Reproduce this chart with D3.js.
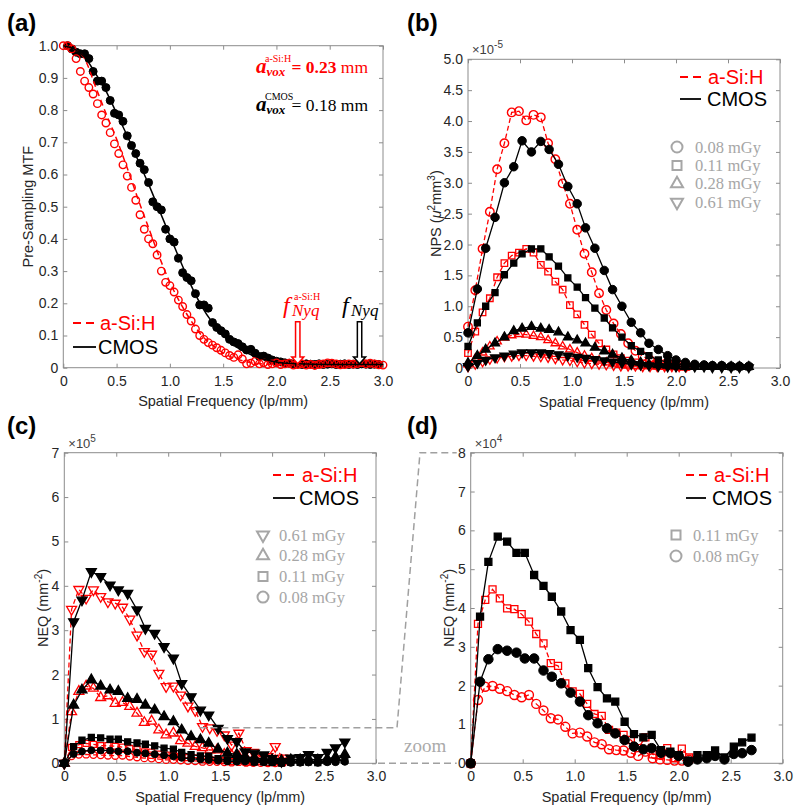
<!DOCTYPE html>
<html><head><meta charset="utf-8">
<script src="https://cdn.jsdelivr.net/npm/d3@7"></script>
<style>body{margin:0;background:#fff}svg{display:block}</style>
</head><body><svg id="c" width="800" height="809"></svg>
<script>
// ---------------- DATA ----------------
const xTickVals = [0,0.5,1,1.5,2,2.5,3];
const xTickLabels = ["0","0.5","1.0","1.5","2.0","2.5","3.0"];
const yTicksA = [0,0.1,0.2,0.3,0.4,0.5,0.6,0.7,0.8,0.9,1.0];
const yLabelsA = ["0","0.1","0.2","0.3","0.4","0.5","0.6","0.7","0.8","0.9","1.0"];
const yTicksB = [0,0.5,1,1.5,2,2.5,3,3.5,4,4.5,5];
const yLabelsB = ["0","0.5","1.0","1.5","2.0","2.5","3.0","3.5","4.0","4.5","5.0"];
const yTicksC = [0,1,2,3,4,5,6,7];
const yTicksD = [0,1,2,3,4,5,6,7,8];
const detectors = ["a-Si:H","CMOS"];
const doseLabels = {d008:"0.08 mGy", d011:"0.11 mGy", d028:"0.28 mGy", d061:"0.61 mGy"};
const nyqFreq = [2.2, 2.78]; // a-Si:H, CMOS

// (a) MTF
const fMtfA = [0,0.04,0.08,0.12,0.16,0.20,0.24,0.28,0.32,0.36,0.40,0.44,0.48,0.52,0.56,0.60,0.64,0.68,0.72,0.76,
 0.80,0.84,0.88,0.92,0.96,1.00,1.04,1.08,1.12,1.16,1.20,1.24,1.28,1.32,1.36,1.40,1.44,1.48,1.52,1.56,
 1.60,1.64,1.68,1.72,1.76,1.80,1.84,1.88,1.92,1.96,2.00,2.04,2.08,2.12,2.16,2.20,2.24,2.28,2.32,2.36,
 2.40,2.44,2.48,2.52,2.56,2.60,2.64,2.68,2.72,2.76,2.80,2.84,2.88,2.92,2.96,3.00];
const mtfASi = [1.0,1.0,0.99,0.96,0.92,0.89,0.87,0.85,0.82,0.785,
 0.76,0.73,0.695,0.665,0.63,0.595,0.56,0.52,0.475,0.43,
 0.40,0.385,0.35,0.30,0.265,0.255,0.235,0.21,0.19,0.165,
 0.145,0.12,0.10,0.088,0.078,0.07,0.062,0.054,0.046,0.038,
 0.032,0.04,0.027,0.012,0.014,0.02,0.012,0.015,0.01,0.012,
 0.015,0.01,0.012,0.014,0.008,0.01,0.012,0.008,0.01,0.007,
 0.01,0.012,0.015,0.014,0.012,0.009,0.01,0.012,0.011,0.013,
 0.016,0.012,0.014,0.012,0.009,0.008];
const fMtfC = [0.04,0.08,0.12,0.16,0.20,0.24,0.28,0.32,0.36,0.40,0.44,0.48,0.52,0.56,0.60,0.64,0.68,0.72,0.76,0.80,
 0.84,0.88,0.92,0.96,1.00,1.04,1.08,1.12,1.16,1.20,1.24,1.28,1.32,1.36,1.40,1.44,1.48,1.52,1.56,1.60,
 1.64,1.68,1.72,1.76,1.80,1.84,1.88,1.92,1.96,2.00,2.04,2.08,2.12,2.16,2.20,2.24,2.28,2.32,2.36,2.40,
 2.44,2.48,2.52,2.56,2.60,2.64,2.68,2.72,2.76,2.80,2.84,2.88,2.92,2.96];
const mtfCmos = [1.0,0.99,0.98,0.975,0.975,0.96,0.92,0.89,0.89,0.87,
 0.83,0.79,0.785,0.765,0.72,0.69,0.665,0.635,0.615,0.575,
 0.515,0.50,0.49,0.43,0.40,0.39,0.34,0.295,0.28,0.27,
 0.23,0.195,0.195,0.185,0.14,0.125,0.115,0.105,0.088,0.08,
 0.075,0.065,0.055,0.057,0.045,0.035,0.036,0.03,0.024,0.02,
 0.018,0.015,0.014,0.012,0.013,0.01,0.012,0.011,0.01,0.012,
 0.01,0.011,0.012,0.01,0.011,0.012,0.01,0.011,0.01,0.012,
 0.011,0.01,0.011,0.01];
const fFit = [0,0.1,0.2,0.3,0.4,0.5,0.6,0.7,0.8,0.9,1.0,1.1,1.2,1.3,1.4,1.5,1.6,1.7,1.8,1.9,2.0,2.2,2.5,3.0];
const fitASi = [1.0,0.99,0.96,0.875,0.79,0.71,0.62,0.525,0.435,0.345,0.265,0.2,0.145,0.1,0.07,0.046,0.03,0.02,0.014,0.011,0.01,0.01,0.01,0.01];
const fitCmos = [1.0,0.99,0.965,0.915,0.86,0.79,0.72,0.645,0.57,0.49,0.41,0.33,0.255,0.19,0.14,0.10,0.07,0.05,0.035,0.025,0.018,0.012,0.01,0.01];

// frequency grids for NPS / NEQ
const fCmos = [0,0.09,0.17,0.26,0.35,0.44,0.52,0.61,0.70,0.78,0.87,0.96,1.05,1.13,1.22,1.31,1.39,1.48,1.57,1.66,1.74,1.83,1.92,2.00,2.09,2.18,2.27,2.35,2.44,2.53,2.61,2.70];
const fASi = [0,0.07,0.14,0.21,0.28,0.35,0.42,0.49,0.56,0.63,0.70,0.77,0.84,0.91,0.98,1.05,1.12,1.19,1.26,1.33,1.40,1.47,1.54,1.61,1.68,1.75,1.82,1.89,1.96,2.03,2.10];

// (b) NPS (x1e-5)
const npsCmos008 = [0.57,1.28,1.94,2.44,3.0,3.26,3.68,3.5,3.67,3.54,3.30,2.94,2.66,2.27,1.94,1.58,1.27,1.0,0.74,0.57,0.40,0.30,0.20,0.13,0.09,0.06,0.05,0.04,0.04,0.03,0.03,0.03];
const npsCmos011 = [0.35,0.73,1.0,1.22,1.51,1.70,1.85,1.93,1.93,1.80,1.65,1.46,1.31,1.14,0.97,0.81,0.65,0.50,0.36,0.27,0.20,0.13,0.09,0.06,0.05,0.04,0.03,0.03,0.03,0.02,0.02,0.02];
const npsCmos028 = [0.08,0.2,0.3,0.4,0.5,0.6,0.64,0.67,0.64,0.62,0.58,0.50,0.45,0.40,0.33,0.27,0.22,0.16,0.12,0.09,0.06,0.05,0.04,0.03,0.02,0.02,0.02,0.02,0.02,0.02,0.02,0.02];
const npsCmos061 = [0.03,0.08,0.13,0.17,0.2,0.23,0.25,0.25,0.25,0.24,0.22,0.2,0.18,0.16,0.14,0.12,0.1,0.08,0.06,0.05,0.04,0.03,0.02,0.02,0.02,0.02,0.02,0.01,0.01,0.01,0.01,0.01];
const npsASi008 = [0.67,1.26,1.93,2.53,3.22,3.64,4.14,4.16,4.01,4.10,4.06,3.64,3.38,2.99,2.66,2.24,1.85,1.55,1.21,0.94,0.72,0.55,0.40,0.28,0.19,0.13,0.09,0.06,0.05,0.04,0.03];
const npsASi011 = [0.24,0.59,0.90,1.13,1.47,1.70,1.82,1.87,1.93,1.87,1.67,1.56,1.40,1.27,1.02,0.87,0.70,0.54,0.40,0.30,0.22,0.16,0.12,0.09,0.07,0.05,0.04,0.03,0.03,0.02,0.02];
const npsASi028 = [0.06,0.15,0.25,0.35,0.43,0.49,0.53,0.55,0.54,0.52,0.50,0.45,0.40,0.35,0.30,0.25,0.20,0.16,0.12,0.09,0.07,0.05,0.04,0.03,0.03,0.03,0.02,0.02,0.02,0.02,0.02];
const npsASi061 = [0.02,0.06,0.10,0.14,0.16,0.18,0.19,0.20,0.20,0.19,0.18,0.17,0.15,0.13,0.12,0.10,0.08,0.07,0.06,0.05,0.04,0.03,0.03,0.03,0.02,0.02,0.02,0.02,0.02,0.02,0.02];

// (c) NEQ high dose (x1e5)
const neqCmos061 = [0,3.19,3.68,4.32,4.21,4.02,3.91,3.83,3.46,3.04,2.93,2.63,2.37,1.80,1.50,1.20,1.09,0.79,0.56,0.49,0.26,0.23,0.19,0.11,0.04,0.12,0.13,0.20,0.13,0.25,0.35,0.48];
const neqCmos028 = [0,1.31,1.65,1.88,1.74,1.65,1.62,1.46,1.44,1.31,1.20,1.05,0.94,0.75,0.60,0.53,0.45,0.32,0.23,0.20,0.15,0.12,0.10,0.08,0.06,0.08,0.08,0.10,0.07,0.10,0.14,0.20];
const neqASi061 = [0,3.47,3.92,3.72,3.91,3.76,3.64,3.61,3.52,3.25,2.89,2.52,2.46,2.03,1.73,1.74,1.54,1.29,1.19,0.83,0.80,0.74,0.64,0.41,0.68,0.29,0.25,0.15,0.15,0.38,0.12];
const neqASi028 = [0,1.16,1.62,1.74,1.69,1.48,1.52,1.35,1.37,1.28,1.13,0.92,0.95,0.75,0.64,0.68,0.51,0.45,0.38,0.35,0.30,0.30,0.20,0.18,0.15,0.12,0.10,0.08,0.07,0.06,0.05];

// (d) NEQ low dose (x1e4)
const neqCmos011 = [0,3.78,5.19,5.84,5.71,5.42,5.42,4.85,4.57,4.29,3.91,3.43,3.18,2.45,1.96,1.67,1.59,1.07,0.75,0.67,0.73,0.34,0.30,0.21,0.07,0.21,0.21,0.33,0.15,0.43,0.54,0.66];
const neqCmos008 = [0,2.10,2.68,2.94,2.90,2.85,2.70,2.70,2.39,2.23,2.06,1.82,1.59,1.24,1.03,0.90,0.77,0.60,0.43,0.36,0.39,0.27,0.26,0.19,0.04,0.10,0.13,0.19,0.10,0.24,0.26,0.34];
const neqASi011 = [0,3.59,4.21,4.48,4.25,3.99,3.97,3.84,3.65,3.33,3.09,2.58,2.51,2.06,1.85,1.79,1.53,1.27,1.22,0.86,0.79,0.73,0.60,0.39,0.67,0.23,0.21,0.39,0.13,0.38,0.15];
const neqASi008 = [0,1.63,1.97,1.99,1.92,1.86,1.76,1.70,1.76,1.53,1.36,1.16,1.13,0.94,0.77,0.79,0.69,0.54,0.49,0.36,0.34,0.33,0.27,0.19,0.30,0.13,0.10,0.09,0.07,0.07,0.09];

// ---------------- DRAWING ----------------
const svg = d3.select("#c");
const RED = "#ff0000", BLK = "#000000", AX = "#262626", BOX = "#8c8c8c", GRAY = "#a6a6a6";
const SANS = "'Liberation Sans', Arial, sans-serif";
const SERIF = "'Liberation Serif', 'Times New Roman', serif";

function sym(shape, w){
  if (shape === "o") return d3.symbol(d3.symbolCircle, Math.PI * (w/2) * (w/2))();
  if (shape === "s") return d3.symbol(d3.symbolSquare, w*w)();
  return d3.symbol(d3.symbolTriangle, w*w*Math.sqrt(3)/4)();
}

function panel(p){
  const x = d3.scaleLinear().domain([0,3]).range([p.x0, p.x1]);
  const y = d3.scaleLinear().domain([0, p.ymax]).range([p.y0, p.y1]);
  const g = svg.append("g");
  const style = a => { a.attr("font-size",14).attr("font-family",SANS);
    a.select(".domain").remove(); a.selectAll("line").attr("stroke",BOX); a.selectAll("text").attr("fill",AX); };
  g.append("g").attr("transform",`translate(0,${p.y0})`)
    .call(d3.axisBottom(x).tickValues(xTickVals).tickFormat((d,i)=>xTickLabels[i]).tickSizeInner(-4).tickSizeOuter(0).tickPadding(8)).call(style);
  g.append("g").attr("transform",`translate(0,${p.y1})`)
    .call(d3.axisTop(x).tickValues(xTickVals).tickFormat("").tickSizeInner(-4).tickSizeOuter(0)).call(style);
  g.append("g").attr("transform",`translate(${p.x0},0)`)
    .call(d3.axisLeft(y).tickValues(p.yTicks).tickFormat((d,i)=>p.yLabels[i]).tickSizeInner(-4).tickSizeOuter(0).tickPadding(5)).call(style);
  g.append("g").attr("transform",`translate(${p.x1},0)`)
    .call(d3.axisRight(y).tickValues(p.yTicks).tickFormat("").tickSizeInner(-4).tickSizeOuter(0)).call(style);
  g.append("rect").attr("x",p.x0).attr("y",p.y1).attr("width",p.x1-p.x0).attr("height",p.y0-p.y1)
    .attr("fill","none").attr("stroke",BOX).attr("stroke-width",1);
  // panel label
  svg.append("text").attr("x",p.lx).attr("y",p.ly).text(p.label)
    .attr("font-family",SANS).attr("font-weight","bold").attr("font-size",24).attr("fill","#000");
  // x label
  g.append("text").attr("x",(p.x0+p.x1)/2).attr("y",p.y0+38.5).attr("text-anchor","middle")
    .attr("font-family",SANS).attr("font-size",14.5).attr("fill",AX).text("Spatial Frequency (lp/mm)");
  // y label
  const yl = g.append("text").attr("transform",`translate(${p.ylx},${(p.y0+p.y1)/2}) rotate(-90)`)
    .attr("text-anchor","middle").attr("font-family",SANS).attr("font-size",14.5).attr("fill",AX);
  p.ylabel.forEach(s => { const t = yl.append("tspan").text(s.t); if (s.dy) t.attr("dy",s.dy); if (s.fs) t.attr("font-size",s.fs); if (s.it) t.attr("font-style","italic"); });
  if (p.mult){
    const m = g.append("text").attr("x",p.x0+4).attr("y",p.y1-5).attr("font-family",SANS).attr("font-size",13).attr("fill","#404040");
    m.append("tspan").text("\u00d710");
    m.append("tspan").text(p.mult).attr("dy",-6).attr("font-size",10);
  }
  return {g,x,y};
}

function series(P, xs, ys, o){
  const pts = xs.map((d,i)=>[d, ys[i]]);
  if (o.line !== false){
    P.g.append("path").attr("d", d3.line().x(d=>P.x(d[0])).y(d=>P.y(d[1]))(pts))
      .attr("fill","none").attr("stroke",o.color).attr("stroke-width",o.lw||1.3)
      .attr("stroke-dasharray", o.dash ? "5,3" : null);
  }
  P.g.append("g").selectAll("path").data(pts).join("path")
    .attr("transform", d=>`translate(${P.x(d[0])},${P.y(d[1])})${o.shape==="v"?" rotate(180)":""}`)
    .attr("d", sym(o.shape, o.size))
    .attr("fill", o.filled ? o.color : "none")
    .attr("stroke", o.color).attr("stroke-width", o.sw || 1.3);
}

function fitLine(P, xs, ys, color, dash){
  P.g.append("path").attr("d", d3.line().curve(d3.curveMonotoneX).x((d,i)=>P.x(d)).y((d,i)=>P.y(ys[i]))(xs))
    .attr("fill","none").attr("stroke",color).attr("stroke-width",1.5).attr("stroke-dasharray",dash?"6,4":null);
}

function detLegend(g, lx0, lx1, tx1, tx2, yA, yB){
  g.append("line").attr("x1",lx0).attr("x2",lx1).attr("y1",yA).attr("y2",yA).attr("stroke",RED).attr("stroke-width",1.8).attr("stroke-dasharray","8,5");
  g.append("text").attr("x",tx1).attr("y",yA+6.5).text(detectors[0]).attr("font-family",SANS).attr("font-size",20).attr("fill",RED);
  g.append("line").attr("x1",lx0).attr("x2",lx1-2).attr("y1",yB).attr("y2",yB).attr("stroke",BLK).attr("stroke-width",1.8);
  g.append("text").attr("x",tx2).attr("y",yB+6.5).text(detectors[1]).attr("font-family",SANS).attr("font-size",20).attr("fill",BLK);
}

function doseLegend(g, items, sx, tx, y0, dy){
  items.forEach((it,i)=>{
    const yy = y0 + i*dy;
    g.append("path").attr("transform",`translate(${sx},${yy})${it[0]==="v"?" rotate(180)":""}`)
      .attr("d", sym(it[0], it[0]==="o"?11:(it[0]==="s"?9:12))).attr("fill","none").attr("stroke",GRAY).attr("stroke-width",2);
    g.append("text").attr("x",tx).attr("y",yy+5.5).text(it[1]).attr("font-family",SERIF).attr("font-size",16.5).attr("fill",GRAY);
  });
}

// ----- (a) -----
const A = panel({x0:63.3,x1:383,y0:367.7,y1:45.7,ymax:1,yTicks:yTicksA,yLabels:yLabelsA,label:"(a)",lx:7,ly:31,
  ylx:33, ylabel:[{t:"Pre-Sampling MTF"}]});
series(A, fMtfC, mtfCmos, {color:BLK, shape:"o", size:8, filled:true, line:false, sw:1});
series(A, fMtfA, mtfASi, {color:RED, shape:"o", size:7.5, filled:false, line:false, sw:1.4});
fitLine(A, fFit, fitASi, RED, true);
fitLine(A, fFit, fitCmos, BLK, false);
detLegend(A.g, 73, 98, 100, 98, 323, 347);
// Nyquist arrows
[[nyqFreq[0],RED],[nyqFreq[1],BLK]].forEach(([f,c])=>{
  const xp = A.x(f), top = A.y(0.143), hb = A.y(0.033), tip = A.y(0.012);
  A.g.append("path").attr("d",`M${xp-2.2},${top}L${xp+2.2},${top}L${xp+2.2},${hb}L${xp+6},${hb}L${xp},${tip}L${xp-6},${hb}L${xp-2.2},${hb}Z`)
    .attr("fill","#fff").attr("stroke",c).attr("stroke-width",1.5);
});
function nyqLabel(xf, col, sup){
  const g = A.g;
  g.append("text").attr("x",xf).attr("y",313).text("f").attr("font-family",SERIF).attr("font-style","italic").attr("font-size",24).attr("fill",col);
  g.append("text").attr("x",xf+9).attr("y",316).text("Nyq").attr("font-family",SERIF).attr("font-style","italic").attr("font-size",17).attr("fill",col);
  if (sup) g.append("text").attr("x",xf+11).attr("y",300).text(sup).attr("font-family",SERIF).attr("font-size",10).attr("fill",col);
}
nyqLabel(283, RED, "a-Si:H");
nyqLabel(342, BLK, null);
// a_vox annotations
function avox(yb, col, sup, val, bold){
  const g = A.g;
  g.append("text").attr("x",256).attr("y",yb).text("a").attr("font-family",SERIF).attr("font-style","italic").attr("font-weight","bold").attr("font-size",21).attr("fill",col);
  g.append("text").attr("x",266.5).attr("y",yb+3).text("vox").attr("font-family",SERIF).attr("font-style","italic").attr("font-weight","bold").attr("font-size",13).attr("fill",col);
  g.append("text").attr("x",265).attr("y",yb-11).text(sup).attr("font-family",SERIF).attr("font-size",10).attr("fill",col);
  const t = g.append("text").attr("x",368).attr("y",yb).attr("text-anchor","end").attr("font-family",SERIF).attr("font-size",17.5).attr("fill",col);
  t.append("tspan").text("= " + val + " ").attr("font-weight", bold ? "bold" : "normal");
  t.append("tspan").text("mm");
}
avox(73, RED, "a-Si:H", "0.23", true);
avox(111, BLK, "CMOS", "0.18", false);

// ----- (b) -----
const B = panel({x0:468,x1:780,y0:368,y1:59.3,ymax:5,yTicks:yTicksB,yLabels:yLabelsB,label:"(b)",lx:407,ly:31,
  ylx:441, mult:"-5",
  ylabel:[{t:"NPS ("},{t:"\u03bc",it:true},{t:"2",dy:-6,fs:10},{t:"mm",dy:6},{t:"3",dy:-6,fs:10},{t:")",dy:6}]});
series(B, fASi, npsASi061, {color:RED, shape:"v", size:8.5, dash:true});
series(B, fASi, npsASi028, {color:RED, shape:"^", size:8.5, dash:true});
series(B, fASi, npsASi011, {color:RED, shape:"s", size:6.5, dash:true});
series(B, fASi, npsASi008, {color:RED, shape:"o", size:8.5, dash:true, sw:1.4});
series(B, fCmos, npsCmos061, {color:BLK, shape:"v", size:9, filled:true});
series(B, fCmos, npsCmos028, {color:BLK, shape:"^", size:9, filled:true});
series(B, fCmos, npsCmos011, {color:BLK, shape:"s", size:6, filled:true});
series(B, fCmos, npsCmos008, {color:BLK, shape:"o", size:8.5, filled:true, sw:1});
detLegend(B.g, 680, 703, 708, 707, 77, 99);
doseLegend(B.g, [["o",doseLabels.d008],["s",doseLabels.d011],["^",doseLabels.d028],["v",doseLabels.d061]], 677, 695, 147, 18.4);

// ----- (c) -----
const C = panel({x0:64.3,x1:376,y0:763.3,y1:452.7,ymax:7,yTicks:yTicksC,yLabels:yTicksC.map(String),label:"(c)",lx:7,ly:434,
  ylx:48, mult:"5",
  ylabel:[{t:"NEQ (mm"},{t:"-2",dy:-6,fs:10},{t:")",dy:6}]});
series(C, fASi, neqASi008.map(v=>v/10), {color:RED, shape:"o", size:7, dash:true, sw:1.3});
series(C, fASi, neqASi011.map(v=>v/10), {color:RED, shape:"s", size:6, dash:true});
series(C, fASi, neqASi028, {color:RED, shape:"^", size:10, dash:true});
series(C, fASi, neqASi061, {color:RED, shape:"v", size:10, dash:true});
series(C, fCmos, neqCmos008.map(v=>v/10), {color:BLK, shape:"o", size:7, filled:true, sw:1});
series(C, fCmos, neqCmos011.map(v=>v/10), {color:BLK, shape:"s", size:6, filled:true});
series(C, fCmos, neqCmos028, {color:BLK, shape:"^", size:10, filled:true});
series(C, fCmos, neqCmos061, {color:BLK, shape:"v", size:10, filled:true});
detLegend(C.g, 273, 297, 302, 299, 475, 498);
doseLegend(C.g, [["v",doseLabels.d061],["^",doseLabels.d028],["s",doseLabels.d011],["o",doseLabels.d008]], 263, 279, 535, 20.7);

// ----- (d) -----
const D = panel({x0:470.7,x1:782.7,y0:763.3,y1:452.7,ymax:8,yTicks:yTicksD,yLabels:yTicksD.map(String),label:"(d)",lx:407,ly:434,
  ylx:454, mult:"4",
  ylabel:[{t:"NEQ (mm"},{t:"-2",dy:-6,fs:10},{t:")",dy:6}]});
series(D, fASi, neqASi008, {color:RED, shape:"o", size:9, dash:true, sw:1.4});
series(D, fASi, neqASi011, {color:RED, shape:"s", size:7, dash:true, sw:1.3});
series(D, fCmos, neqCmos008, {color:BLK, shape:"o", size:9.5, filled:true, sw:1});
series(D, fCmos, neqCmos011, {color:BLK, shape:"s", size:7, filled:true});
detLegend(D.g, 686, 708, 714, 712, 475, 498);
doseLegend(D.g, [["s",doseLabels.d011],["o",doseLabels.d008]], 676, 693, 535, 21);

// ----- zoom connector -----
const zc = svg.append("g").attr("fill","none").attr("stroke","#a0a0a0").attr("stroke-width",1.5).attr("stroke-dasharray","7,4");
const midX = 397, topX = 420;
zc.append("path").attr("d",`M${C.x(1.3)},${C.y(0.8)}L${midX},${C.y(0.8)}L${topX},${D.y(8)}L${D.x(0)-14},${D.y(8)}`);
zc.append("path").attr("d",`M${C.x(3)+2},${C.y(0)}L${D.x(0)-14},${D.y(0)}`);
svg.append("text").attr("x",404).attr("y",752).text("zoom").attr("font-family",SERIF).attr("font-size",19).attr("fill","#aaaaaa");
</script></body></html>
